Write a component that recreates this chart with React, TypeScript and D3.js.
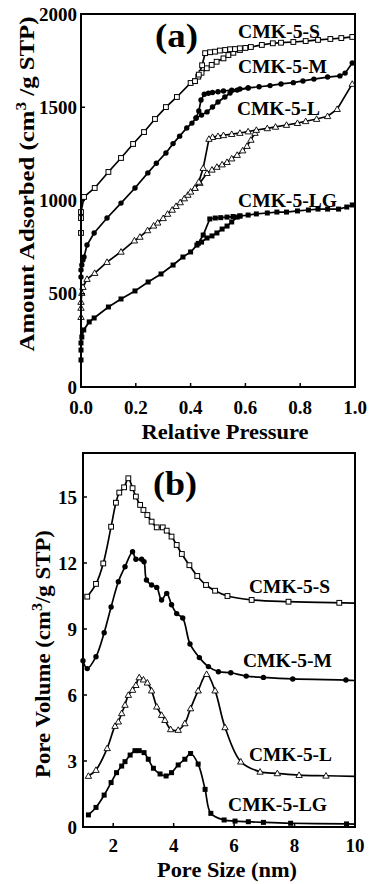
import React from 'react';
import * as d3 from 'd3';

const W = 372;
const H = 884;
const FONT = 'Liberation Serif, Times New Roman, Times, serif';

// (a) N2 isotherms, [relative pressure, amount adsorbed]
const sAds = [[0, 826], [0, 906], [0, 938], [0.011, 1019], [0.05, 1067], [0.1, 1153], [0.146, 1228], [0.19, 1303], [0.23, 1367], [0.27, 1437], [0.31, 1501], [0.35, 1555], [0.4, 1630], [0.416, 1640], [0.428, 1664], [0.44, 1685], [0.459, 1709], [0.477, 1727], [0.495, 1744], [0.52, 1762], [0.538, 1780], [0.556, 1792], [0.58, 1807], [0.6, 1818]];
const sDes = [[0.99, 1877], [0.95, 1871], [0.91, 1866], [0.865, 1861], [0.82, 1855], [0.775, 1850], [0.73, 1846], [0.7, 1843], [0.66, 1834], [0.62, 1823], [0.58, 1816], [0.562, 1812], [0.544, 1811], [0.526, 1807], [0.507, 1804], [0.489, 1798], [0.471, 1795], [0.453, 1790], [0.442, 1725], [0.43, 1675], [0.416, 1640]];

const mAds = [[0, 590], [0, 627], [0.003, 654], [0.007, 681], [0.011, 697], [0.022, 761], [0.048, 826], [0.095, 906], [0.146, 986], [0.197, 1067], [0.244, 1148], [0.275, 1200], [0.31, 1255], [0.336, 1305], [0.36, 1345], [0.386, 1389], [0.405, 1415], [0.42, 1442], [0.44, 1458], [0.46, 1475], [0.48, 1501], [0.5, 1528], [0.525, 1555], [0.544, 1576], [0.57, 1592], [0.61, 1603]];
const mDes = [[0.99, 1737], [0.964, 1683], [0.945, 1668], [0.9, 1662], [0.85, 1651], [0.81, 1641], [0.775, 1632], [0.73, 1625], [0.69, 1616], [0.65, 1610], [0.61, 1604], [0.58, 1598], [0.55, 1592], [0.52, 1587], [0.5, 1583], [0.48, 1579], [0.465, 1575], [0.45, 1570], [0.438, 1539], [0.43, 1480], [0.42, 1442]];

const lAds = [[0, 375], [0, 424], [0, 456], [0.003, 504], [0.007, 536], [0.022, 579], [0.05, 611], [0.095, 670], [0.146, 725], [0.195, 785], [0.215, 805], [0.243, 840], [0.265, 865], [0.28, 881], [0.3, 905], [0.316, 928], [0.333, 950], [0.347, 970], [0.362, 990], [0.377, 1011], [0.39, 1030], [0.4, 1047], [0.416, 1067], [0.434, 1094], [0.46, 1147], [0.478, 1165], [0.496, 1180], [0.515, 1193], [0.533, 1206], [0.55, 1225], [0.57, 1244], [0.59, 1268], [0.606, 1292], [0.62, 1325], [0.635, 1362]];
const lDes = [[0.99, 1625], [0.935, 1490], [0.9, 1452], [0.86, 1437], [0.82, 1425], [0.79, 1415], [0.75, 1405], [0.71, 1395], [0.68, 1387], [0.64, 1378], [0.61, 1370], [0.58, 1362], [0.55, 1356], [0.52, 1350], [0.5, 1345], [0.48, 1340], [0.467, 1330], [0.446, 1174], [0.43, 1100], [0.416, 1067]];

const lgAds = [[0, 145], [0, 198], [0, 236], [0.003, 268], [0.01, 306], [0.03, 349], [0.048, 370], [0.1, 429], [0.146, 472], [0.197, 515], [0.245, 563], [0.292, 606], [0.336, 654], [0.372, 697], [0.4, 724], [0.423, 761], [0.44, 777], [0.46, 799], [0.478, 810], [0.496, 826], [0.515, 847], [0.533, 863], [0.55, 885], [0.57, 911], [0.58, 917]];
const lgDes = [[0.99, 976], [0.97, 965], [0.94, 954], [0.9, 954], [0.865, 954], [0.83, 949], [0.79, 944], [0.75, 938], [0.715, 938], [0.68, 933], [0.64, 928], [0.61, 922], [0.58, 917], [0.555, 914], [0.533, 911], [0.51, 908], [0.49, 906], [0.47, 901], [0.446, 815], [0.428, 770]];

// (b) pore size distributions, [pore size nm, pore volume]
const psdS = [[1.14, 10.47], [1.43, 11.05], [1.67, 11.98], [1.93, 13.65], [2.09, 14.74], [2.2, 15.2], [2.36, 15.44], [2.5, 15.85], [2.64, 15.4], [2.75, 15.02], [2.89, 14.64], [3.0, 14.41], [3.13, 14.18], [3.27, 13.88], [3.44, 13.62], [3.64, 13.62], [3.77, 13.47], [3.93, 13.2], [4.1, 12.82], [4.27, 12.41], [4.52, 11.9], [4.78, 11.41], [5.07, 11.0], [5.37, 10.74], [5.78, 10.5], [6.58, 10.32], [7.8, 10.24], [9.48, 10.19], [10, 10.18]];
const psdM = [[1.0, 7.56], [1.14, 7.2], [1.43, 7.74], [1.7, 8.83], [1.93, 10.0], [2.17, 11.15], [2.39, 11.83], [2.64, 12.51], [2.75, 12.17], [2.94, 12.17], [3.02, 12.06], [3.1, 11.23], [3.27, 11.0], [3.44, 10.89], [3.6, 10.32], [3.77, 10.62], [3.93, 10.1], [4.1, 9.7], [4.3, 9.5], [4.54, 8.32], [4.85, 7.7], [5.15, 7.29], [5.48, 7.06], [5.89, 7.01], [6.4, 6.86], [6.97, 6.8], [7.94, 6.73], [9.7, 6.68], [10, 6.66]];
const psdL = [[1.18, 2.32], [1.43, 2.59], [1.8, 3.58], [2.06, 4.59], [2.17, 4.79], [2.28, 5.17], [2.39, 5.55], [2.5, 6.0], [2.64, 6.23], [2.75, 6.45], [2.86, 6.8], [3.0, 6.7], [3.13, 6.56], [3.27, 6.2], [3.44, 5.47], [3.6, 5.09], [3.71, 4.86], [3.9, 4.44], [4.15, 4.41], [4.37, 4.71], [4.56, 5.39], [4.81, 6.2], [5.09, 6.95], [5.37, 6.2], [5.7, 4.53], [6.22, 2.97], [6.86, 2.51], [7.43, 2.44], [8.15, 2.36], [9.04, 2.33], [10, 2.3]];
const psdLG = [[1.18, 0.55], [1.43, 0.89], [1.7, 1.45], [1.93, 2.02], [2.11, 2.47], [2.28, 2.77], [2.39, 2.97], [2.56, 3.27], [2.72, 3.47], [2.86, 3.47], [3.02, 3.38], [3.16, 3.08], [3.33, 2.67], [3.55, 2.41], [3.75, 2.32], [3.93, 2.47], [4.15, 2.82], [4.37, 3.08], [4.56, 3.34], [4.81, 2.86], [5.04, 1.71], [5.23, 0.62], [5.67, 0.32], [6.03, 0.27], [6.47, 0.24], [6.97, 0.21], [7.87, 0.17], [9.72, 0.14], [10, 0.13]];

const pressureTicks = [0, 0.2, 0.4, 0.6, 0.8, 1.0];
const adsorbedTicks = [0, 500, 1000, 1500, 2000];
const poreTicks = [2, 4, 6, 8, 10];
const volumeTicks = [0, 3, 6, 9, 12, 15];

const isotherms = [
  { name: 'CMK-5-S', ads: sAds, des: sDes, marker: 'openSquare' },
  { name: 'CMK-5-M', ads: mAds, des: mDes, marker: 'dot' },
  { name: 'CMK-5-L', ads: lAds, des: lDes, marker: 'openTriangle' },
  { name: 'CMK-5-LG', ads: lgAds, des: lgDes, marker: 'square' },
];
const distributions = [
  { name: 'CMK-5-S', values: psdS, marker: 'openSquare' },
  { name: 'CMK-5-M', values: psdM, marker: 'dot' },
  { name: 'CMK-5-L', values: psdL, marker: 'openTriangle' },
  { name: 'CMK-5-LG', values: psdLG, marker: 'square' },
];

// label placement (x, baseline, width)
const labelsA = [[238, 38, 82], [238, 73, 89], [237, 115, 83], [238, 207, 99]];
const labelsB = [[249, 593, 81], [243, 667, 89], [249, 761, 83], [228, 811, 99]];

const xA = d3.scaleLinear().domain([0, 1]).range([81, 355]);
const yA = d3.scaleLinear().domain([0, 2000]).range([387, 14]);
const xB = d3.scaleLinear().domain([1, 10]).range([83, 355]);
const yB = d3.scaleLinear().domain([0, 17]).range([827, 453]);

const txt = { fontFamily: FONT, fontWeight: 700 };

function Marker({ type, x, y }) {
  if (type === 'openSquare') {
    return <rect x={x - 2.4} y={y - 2.4} width={4.8} height={4.8} fill="#fff" stroke="#000" strokeWidth={1} />;
  }
  if (type === 'square') {
    return <rect x={x - 2.5} y={y - 2.5} width={5} height={5} fill="#000" />;
  }
  if (type === 'dot') {
    return <circle cx={x} cy={y} r={2.7} fill="#000" />;
  }
  const s = 3.2;
  return <path d={`M${x},${y - s}L${x + s},${y + s * 0.75}L${x - s},${y + s * 0.75}Z`} fill="#fff" stroke="#000" strokeWidth={0.9} />;
}

function Frame({ x, y, xTicks, yTicks, xFmt, yFmt, xLabelY }) {
  const [x0, x1] = x.range();
  const [y0, y1] = y.range();
  return (
    <g>
      <rect x={x0} y={y1} width={x1 - x0} height={y0 - y1} fill="none" stroke="#000" strokeWidth={2} />
      {xTicks.map(t => (
        <g key={'x' + t}>
          <line x1={x(t)} x2={x(t)} y1={y0} y2={y0 - 4} stroke="#000" strokeWidth={1.5} />
          <text x={x(t)} y={xLabelY} textAnchor="middle" fontSize={19} style={txt}>{xFmt(t)}</text>
        </g>
      ))}
      {yTicks.map(t => (
        <g key={'y' + t}>
          <line x1={x0} x2={x0 + 4} y1={y(t)} y2={y(t)} stroke="#000" strokeWidth={1.5} />
          <text x={77} y={y(t) + 6.5} textAnchor="end" fontSize={19} style={txt}>{yFmt(t)}</text>
        </g>
      ))}
    </g>
  );
}

export default function App() {
  const lineA = d3.line().x(d => xA(d[0])).y(d => yA(d[1]));
  const lineB = d3.line().x(d => xB(d[0])).y(d => yB(d[1])).curve(d3.curveCatmullRom.alpha(0.5));

  return (
    <svg width={W} height={H} style={{ position: 'absolute', left: 0, top: 0, background: '#fff' }}>
      {/* (a) isotherms */}
      {isotherms.map(s => (
        <g key={s.name}>
          <path d={lineA(s.ads)} fill="none" stroke="#000" strokeWidth={1.7} />
          <path d={lineA(s.des)} fill="none" stroke="#000" strokeWidth={1.7} />
          {s.ads.concat(s.des).map((d, i) => (
            <Marker key={i} type={s.marker} x={xA(d[0])} y={yA(d[1])} />
          ))}
        </g>
      ))}
      <Frame x={xA} y={yA} xTicks={pressureTicks} yTicks={adsorbedTicks} xFmt={d3.format('.1f')} yFmt={d3.format('d')} xLabelY={414} />
      {isotherms.map((s, i) => (
        <text key={s.name} x={labelsA[i][0]} y={labelsA[i][1]} fontSize={18} style={txt} textLength={labelsA[i][2]} lengthAdjust="spacingAndGlyphs">{s.name}</text>
      ))}
      <text x={155} y={47} fontSize={33} style={txt} textLength={43} lengthAdjust="spacingAndGlyphs">(a)</text>
      <text x={225} y={439} textAnchor="middle" fontSize={20} style={txt} textLength={167} lengthAdjust="spacingAndGlyphs">Relative Pressure</text>
      <text transform="translate(34,184) rotate(-90)" textAnchor="middle" fontSize={20} style={txt} textLength={335} lengthAdjust="spacingAndGlyphs">
        Amount Adsorbed (cm<tspan dy={-8} fontSize={14}>3</tspan><tspan dy={8}> /g STP)</tspan>
      </text>

      {/* (b) pore size distributions */}
      {distributions.map(s => (
        <g key={s.name}>
          <path d={lineB(s.values)} fill="none" stroke="#000" strokeWidth={1.7} />
          {s.values.filter(d => d[0] < 10).map((d, i) => (
            <Marker key={i} type={s.marker} x={xB(d[0])} y={yB(d[1])} />
          ))}
        </g>
      ))}
      <Frame x={xB} y={yB} xTicks={poreTicks} yTicks={volumeTicks} xFmt={d3.format('d')} yFmt={d3.format('d')} xLabelY={852} />
      {distributions.map((s, i) => (
        <text key={s.name} x={labelsB[i][0]} y={labelsB[i][1]} fontSize={18} style={txt} textLength={labelsB[i][2]} lengthAdjust="spacingAndGlyphs">{s.name}</text>
      ))}
      <text x={153} y={495} fontSize={33} style={txt} textLength={44} lengthAdjust="spacingAndGlyphs">(b)</text>
      <text x={227} y={877} textAnchor="middle" fontSize={20} style={txt} textLength={140} lengthAdjust="spacingAndGlyphs">Pore Size (nm)</text>
      <text transform="translate(50,654) rotate(-90)" textAnchor="middle" fontSize={20} style={txt} textLength={248} lengthAdjust="spacingAndGlyphs">
        Pore Volume  (cm<tspan dy={-8} fontSize={14}>3</tspan><tspan dy={8}>/g STP)</tspan>
      </text>
    </svg>
  );
}
